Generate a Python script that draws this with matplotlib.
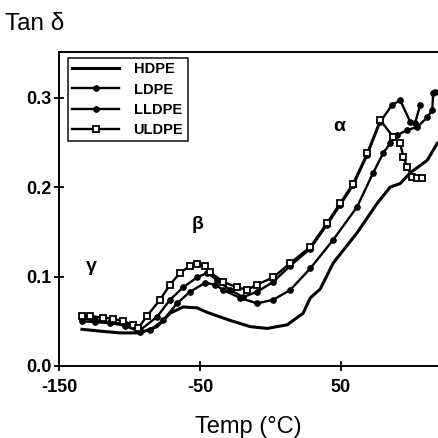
import matplotlib
matplotlib.use("Agg")
import matplotlib.pyplot as plt

plt.rcParams['font.family'] = ['Liberation Sans', 'DejaVu Sans']

# HDPE
hdpe_x = [-133.7, -120.9, -106.7, -92.5, -80.4, -71.2, -61.9, -52.0, -44.9, -28.6, -14.3, -2.3,
          11.9, 23.3, 28.3, 35.4, 44.6, 61.6, 75.9, 85.1, 92.2, 99.3, 111.4, 118.5]
hdpe_y = [0.041, 0.039, 0.037, 0.037, 0.044, 0.059, 0.066, 0.065, 0.060, 0.051, 0.044, 0.042,
          0.046, 0.059, 0.076, 0.086, 0.115, 0.149, 0.182, 0.200, 0.204, 0.216, 0.230, 0.249]

# LDPE
ldpe_x = [-133.7, -124.4, -113.8, -103.1, -92.5, -80.4, -71.2, -61.9, -52.0, -44.9, -37.8, -28.6,
          -19.3, -9.4, 2.0, 14.1, 28.3, 40.3, 49.6, 58.8, 68.8, 78.0, 86.5, 92.2, 99.3, 102.8, 106.4]
ldpe_y = [0.053, 0.051, 0.049, 0.047, 0.040, 0.055, 0.074, 0.088, 0.099, 0.104, 0.096, 0.085,
          0.077, 0.083, 0.094, 0.112, 0.131, 0.158, 0.180, 0.202, 0.236, 0.273, 0.292, 0.297,
          0.273, 0.272, 0.292]

# LLDPE
lldpe_x = [-133.7, -124.4, -113.8, -103.1, -92.5, -85.4, -76.1, -66.2, -57.0, -46.3, -39.2, -33.5,
           -21.4, -9.4, 2.0, 14.1, 28.3, 44.6, 61.6, 73.0, 80.1, 85.1, 90.1, 97.2, 104.3, 111.4,
           114.9, 115.6, 117.0]
lldpe_y = [0.050, 0.049, 0.048, 0.045, 0.038, 0.040, 0.051, 0.070, 0.083, 0.093, 0.091, 0.085,
           0.076, 0.070, 0.074, 0.085, 0.109, 0.141, 0.178, 0.216, 0.238, 0.249, 0.258, 0.264,
           0.267, 0.278, 0.286, 0.305, 0.306]

# ULDPE
uldpe_x = [-133.7, -128.0, -118.8, -111.6, -104.5, -97.4, -93.9, -87.5, -78.3, -71.2, -64.1, -57.0,
           -52.0, -46.3, -42.8, -33.5, -23.6, -16.5, -9.4, 2.0, 14.1, 28.3, 40.3, 49.6, 58.8, 68.8,
           78.0, 87.2, 92.2, 94.3, 97.2, 100.7, 104.3, 107.8]
uldpe_y = [0.056, 0.056, 0.054, 0.053, 0.050, 0.046, 0.042, 0.056, 0.074, 0.091, 0.104, 0.112,
           0.114, 0.112, 0.105, 0.094, 0.088, 0.085, 0.091, 0.099, 0.115, 0.133, 0.160, 0.182,
           0.204, 0.238, 0.275, 0.256, 0.249, 0.234, 0.222, 0.211, 0.210, 0.210]

xticks = [-150, -50, 50]
yticks = [0.0, 0.1, 0.2, 0.3]
ytick_labels = ["0.0", "0.1", "0.2", "0.3"]

fig = plt.figure(figsize=(4.38, 4.38), dpi=100)
ax = fig.add_axes([59/438, 1 - 366/438, 1 - 59/438, (366 - 52)/438])

ax.plot(hdpe_x, hdpe_y, color='black', lw=2.2, label='HDPE')
ax.plot(ldpe_x, ldpe_y, color='black', lw=1.7, marker='o', ms=3.8, label='LDPE')
ax.plot(lldpe_x, lldpe_y, color='black', lw=1.7, marker='o', ms=3.8, label='LLDPE')
ax.plot(uldpe_x, uldpe_y, color='black', lw=1.7, marker='s', ms=4.0, mfc='white', mew=1.3,
        label='ULDPE')

ax.set_xlim(-150, 119)
ax.set_ylim(0, 0.351)
ax.set_xticks(xticks)
ax.set_xticklabels([str(t) for t in xticks])
ax.set_yticks(yticks)
ax.set_yticklabels(ytick_labels)
for lab in ax.get_xticklabels() + ax.get_yticklabels():
    lab.set_fontweight('bold')
    lab.set_fontsize(13)
ax.tick_params(direction='inout', length=7, width=1.3)
ax.tick_params(axis='y', pad=2)
ax.tick_params(axis='x', pad=6)
ax.spines['right'].set_visible(False)
for s in ['left', 'bottom', 'top']:
    ax.spines[s].set_linewidth(1.4)

ax.set_xlabel('Temp (°C)', fontsize=17, labelpad=14)
fig.text(0.012, 0.945, 'Tan δ', fontsize=17.5, ha='left', va='center')

ax.text(-127, 0.111, 'γ', fontsize=14, fontweight='bold', ha='center', va='center')
ax.text(-52, 0.158, 'β', fontsize=14, fontweight='bold', ha='center', va='center')
ax.text(49, 0.268, 'α', fontsize=14, fontweight='bold', ha='center', va='center')

leg = ax.legend(loc='upper left', bbox_to_anchor=(9/379, 1 - 6/314), borderaxespad=0,
                frameon=True, fancybox=False, edgecolor='black', handlelength=3.2,
                handletextpad=1.0, borderpad=0.3, labelspacing=0.42,
                prop={'weight': 'bold', 'size': 10.5})
leg.get_frame().set_linewidth(1.3)

fig.savefig('out.png', dpi=100)
